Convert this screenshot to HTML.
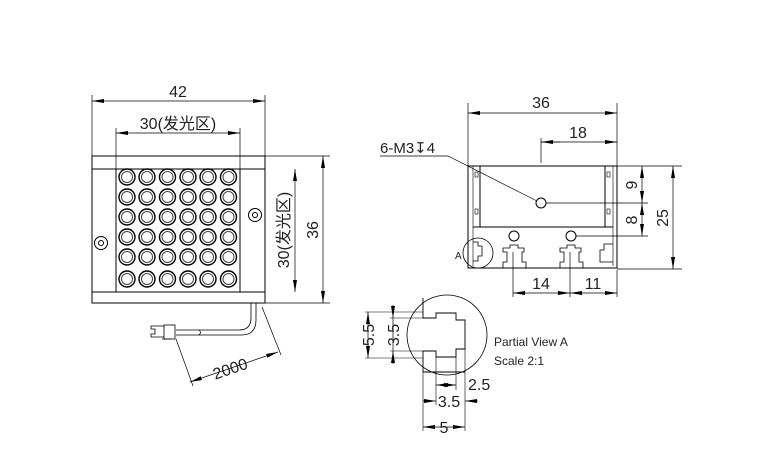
<!DOCTYPE html>
<html><head><meta charset="utf-8"><style>
html,body{margin:0;padding:0;background:#fff;}
svg{display:block;}
text{font-family:"Liberation Sans","Noto Sans CJK SC",sans-serif;fill:#222;}
</style></head><body>
<svg width="768" height="467" viewBox="0 0 768 467" xmlns="http://www.w3.org/2000/svg">
<defs>
<marker id="a" viewBox="0 0 12 4" refX="12" refY="2" markerWidth="12" markerHeight="4.4" orient="auto-start-reverse" markerUnits="userSpaceOnUse"><path d="M0,0L12,2L0,4z" fill="#000"/></marker>
</defs>
<g stroke="#000" stroke-width="1" fill="none">
<rect x="92" y="156" width="173" height="147"/>
<line x1="92" y1="169" x2="265" y2="169"/>
<line x1="92" y1="292" x2="265" y2="292"/>
<line x1="116" y1="169" x2="116" y2="292"/>
<line x1="240" y1="169" x2="240" y2="292"/>
<circle cx="255" cy="215" r="6.5"/><circle cx="255" cy="215" r="2.5"/>
<circle cx="101" cy="243" r="6.5"/><circle cx="101" cy="243" r="2.5"/>
<line x1="92" y1="95" x2="92" y2="156" stroke-width="0.7"/>
<line x1="265" y1="95" x2="265" y2="156" stroke-width="0.7"/>
<line x1="92" y1="101" x2="265" y2="101" marker-start="url(#a)" marker-end="url(#a)" stroke-width="0.7"/>
<line x1="116" y1="128" x2="116" y2="169" stroke-width="0.7"/>
<line x1="240" y1="128" x2="240" y2="169" stroke-width="0.7"/>
<line x1="116" y1="133" x2="240" y2="133" marker-start="url(#a)" marker-end="url(#a)" stroke-width="0.7"/>
<line x1="295" y1="169" x2="295" y2="292" marker-start="url(#a)" marker-end="url(#a)" stroke-width="0.7"/>
<line x1="265" y1="156" x2="330" y2="156" stroke-width="0.7"/>
<line x1="265" y1="303" x2="330" y2="303" stroke-width="0.7"/>
<line x1="323" y1="156" x2="323" y2="303" marker-start="url(#a)" marker-end="url(#a)" stroke-width="0.7"/>
<path d="M251,303 V318 Q251,330 239,330 H176 M256,303 V320 Q256,335 241,335 H176" stroke-width="0.8"/>
<path d="M199,330 q3,2.5 0,5" stroke-width="0.8"/>
<rect x="164" y="325" width="11" height="14" stroke-width="0.8"/>
<path d="M164,326 H151 V329 H155 V334 H151 V337 H164 M162,339 H171" stroke-width="0.8"/>
<line x1="262" y1="307" x2="281" y2="355" stroke-width="0.7"/>
<line x1="176" y1="339" x2="193" y2="386" stroke-width="0.7"/>
<line x1="190" y1="382" x2="278" y2="352" marker-start="url(#a)" marker-end="url(#a)" stroke-width="0.7"/>
<path d="M468,166 V268 H617 V166 Z"/>
<line x1="480" y1="166" x2="480" y2="227"/>
<line x1="605" y1="166" x2="605" y2="227"/>
<line x1="473" y1="166" x2="473" y2="266" stroke-width="0.6"/>
<line x1="613" y1="166" x2="613" y2="266" stroke-width="0.6"/>
<path d="M473,227 H613"/>
<rect x="475" y="172" width="3" height="5" stroke-width="0.6"/><rect x="475" y="209" width="3" height="5" stroke-width="0.6"/>
<rect x="607" y="172" width="3" height="5" stroke-width="0.6"/><rect x="607" y="209" width="3" height="5" stroke-width="0.6"/>
<circle cx="541" cy="203" r="5"/>
<circle cx="514" cy="236" r="5"/><circle cx="571" cy="236" r="5"/>
<path d="M473,242 H478 V246 H482 V256 H478 V261 H473" stroke-width="0.8"/>
<path d="M503,268 V262 H507 V252 H503 V248 H510 V245 H518 V248 H524 V252 H522 V262 H526 V268" stroke-width="0.8"/>
<path d="M560,268 V262 H564 V252 H560 V248 H567 V245 H575 V248 H581 V252 H579 V262 H583 V268" stroke-width="0.8"/>
<path d="M613,244 H604 V250 H600 V262 H613" stroke-width="0.8"/>
<circle cx="478" cy="253" r="15" stroke-width="0.8"/>
<line x1="468" y1="103" x2="468" y2="166" stroke-width="0.7"/>
<line x1="617" y1="103" x2="617" y2="166" stroke-width="0.7"/>
<line x1="468" y1="113" x2="617" y2="113" marker-start="url(#a)" marker-end="url(#a)" stroke-width="0.7"/>
<line x1="541" y1="138" x2="541" y2="163" stroke-width="0.7"/>
<line x1="541" y1="142" x2="617" y2="142" marker-end="url(#a)" stroke-width="0.7"/>
<line x1="541" y1="142" x2="560" y2="142" marker-start="url(#a)" stroke-width="0.7"/>
<polyline points="380,156 448,156 537,201" stroke-width="0.7"/>
<line x1="617" y1="166" x2="682" y2="166" stroke-width="0.7"/>
<line x1="546" y1="203" x2="648" y2="203" stroke-width="0.7"/>
<line x1="576" y1="236" x2="648" y2="236" stroke-width="0.7"/>
<line x1="617" y1="269" x2="682" y2="269" stroke-width="0.7"/>
<line x1="642" y1="166" x2="642" y2="203" marker-start="url(#a)" marker-end="url(#a)" stroke-width="0.7"/>
<line x1="642" y1="203" x2="642" y2="236" marker-start="url(#a)" marker-end="url(#a)" stroke-width="0.7"/>
<line x1="673" y1="166" x2="673" y2="269" marker-start="url(#a)" marker-end="url(#a)" stroke-width="0.7"/>
<line x1="513" y1="252" x2="513" y2="297" stroke-width="0.7"/>
<line x1="570" y1="252" x2="570" y2="297" stroke-width="0.7"/>
<line x1="617" y1="270" x2="617" y2="297" stroke-width="0.7"/>
<line x1="513" y1="293" x2="570" y2="293" marker-start="url(#a)" marker-end="url(#a)" stroke-width="0.7"/>
<line x1="570" y1="293" x2="617" y2="293" marker-start="url(#a)" marker-end="url(#a)" stroke-width="0.7"/>
<circle cx="447" cy="335" r="40" stroke-width="0.8"/>
<path d="M423,298 V318 H436 V313 H456 V320 H465 V349 H456 V357 H436 V351 H423 V372" stroke-width="0.9"/>
<line x1="423" y1="372" x2="465" y2="372"/>
<line x1="365" y1="312" x2="423" y2="312" stroke-width="0.6"/>
<line x1="365" y1="358" x2="423" y2="358" stroke-width="0.6"/>
<line x1="390" y1="318" x2="423" y2="318" stroke-width="0.6"/>
<line x1="390" y1="351" x2="423" y2="351" stroke-width="0.6"/>
<line x1="368" y1="312" x2="368" y2="358" marker-start="url(#a)" marker-end="url(#a)" stroke-width="0.7"/>
<line x1="393" y1="305" x2="393" y2="318" marker-end="url(#a)" stroke-width="0.7"/>
<line x1="393" y1="351" x2="393" y2="364" marker-start="url(#a)" stroke-width="0.7"/>
<line x1="393" y1="318" x2="393" y2="351" stroke-width="0.7"/>
<line x1="423" y1="372" x2="423" y2="431" stroke-width="0.6"/>
<line x1="436" y1="357" x2="436" y2="405" stroke-width="0.6"/>
<line x1="456" y1="357" x2="456" y2="390" stroke-width="0.6"/>
<line x1="465" y1="349" x2="465" y2="431" stroke-width="0.6"/>
<line x1="436" y1="385" x2="456" y2="385" marker-start="url(#a)" marker-end="url(#a)" stroke-width="0.7"/>
<line x1="423" y1="401" x2="436" y2="401" marker-end="url(#a)" stroke-width="0.7"/>
<line x1="465" y1="401" x2="478" y2="401" marker-start="url(#a)" stroke-width="0.7"/>
<line x1="423" y1="427" x2="465" y2="427" marker-start="url(#a)" marker-end="url(#a)" stroke-width="0.7"/>
</g>
<g stroke="#000" stroke-width="1.4" fill="none">
<circle cx="127" cy="177" r="8"/><circle cx="147" cy="177" r="8"/><circle cx="167.5" cy="177" r="8"/><circle cx="188" cy="177" r="8"/><circle cx="208" cy="177" r="8"/><circle cx="228.5" cy="177" r="8"/>
<circle cx="127" cy="197" r="8"/><circle cx="147" cy="197" r="8"/><circle cx="167.5" cy="197" r="8"/><circle cx="188" cy="197" r="8"/><circle cx="208" cy="197" r="8"/><circle cx="228.5" cy="197" r="8"/>
<circle cx="127" cy="217" r="8"/><circle cx="147" cy="217" r="8"/><circle cx="167.5" cy="217" r="8"/><circle cx="188" cy="217" r="8"/><circle cx="208" cy="217" r="8"/><circle cx="228.5" cy="217" r="8"/>
<circle cx="127" cy="237" r="8"/><circle cx="147" cy="237" r="8"/><circle cx="167.5" cy="237" r="8"/><circle cx="188" cy="237" r="8"/><circle cx="208" cy="237" r="8"/><circle cx="228.5" cy="237" r="8"/>
<circle cx="127" cy="257" r="8"/><circle cx="147" cy="257" r="8"/><circle cx="167.5" cy="257" r="8"/><circle cx="188" cy="257" r="8"/><circle cx="208" cy="257" r="8"/><circle cx="228.5" cy="257" r="8"/>
<circle cx="127" cy="279" r="8"/><circle cx="147" cy="279" r="8"/><circle cx="167.5" cy="279" r="8"/><circle cx="188" cy="279" r="8"/><circle cx="208" cy="279" r="8"/><circle cx="228.5" cy="279" r="8"/>
</g>
<g stroke="#444" stroke-width="1" fill="none">
<circle cx="127" cy="177" r="5.5"/><circle cx="147" cy="177" r="5.5"/><circle cx="167.5" cy="177" r="5.5"/><circle cx="188" cy="177" r="5.5"/><circle cx="208" cy="177" r="5.5"/><circle cx="228.5" cy="177" r="5.5"/>
<circle cx="127" cy="197" r="5.5"/><circle cx="147" cy="197" r="5.5"/><circle cx="167.5" cy="197" r="5.5"/><circle cx="188" cy="197" r="5.5"/><circle cx="208" cy="197" r="5.5"/><circle cx="228.5" cy="197" r="5.5"/>
<circle cx="127" cy="217" r="5.5"/><circle cx="147" cy="217" r="5.5"/><circle cx="167.5" cy="217" r="5.5"/><circle cx="188" cy="217" r="5.5"/><circle cx="208" cy="217" r="5.5"/><circle cx="228.5" cy="217" r="5.5"/>
<circle cx="127" cy="237" r="5.5"/><circle cx="147" cy="237" r="5.5"/><circle cx="167.5" cy="237" r="5.5"/><circle cx="188" cy="237" r="5.5"/><circle cx="208" cy="237" r="5.5"/><circle cx="228.5" cy="237" r="5.5"/>
<circle cx="127" cy="257" r="5.5"/><circle cx="147" cy="257" r="5.5"/><circle cx="167.5" cy="257" r="5.5"/><circle cx="188" cy="257" r="5.5"/><circle cx="208" cy="257" r="5.5"/><circle cx="228.5" cy="257" r="5.5"/>
<circle cx="127" cy="279" r="5.5"/><circle cx="147" cy="279" r="5.5"/><circle cx="167.5" cy="279" r="5.5"/><circle cx="188" cy="279" r="5.5"/><circle cx="208" cy="279" r="5.5"/><circle cx="228.5" cy="279" r="5.5"/>
</g>
<g font-size="16">
<text x="178" y="97" text-anchor="middle">42</text>
<text x="178" y="129" text-anchor="middle">30(发光区)</text>
<text transform="translate(289,230) rotate(-90)" text-anchor="middle">30(发光区)</text>
<text transform="translate(318,230) rotate(-90)" text-anchor="middle">36</text>
<text transform="translate(232,374) rotate(-19)" text-anchor="middle">2000</text>
<text x="541" y="108" text-anchor="middle">36</text>
<text x="578" y="138" text-anchor="middle">18</text>
<text x="380" y="153" font-size="15">6-M3↧4</text>
<text transform="translate(637,185) rotate(-90)" text-anchor="middle">9</text>
<text transform="translate(637,220) rotate(-90)" text-anchor="middle">8</text>
<text transform="translate(668,218) rotate(-90)" text-anchor="middle">25</text>
<text x="541" y="289" text-anchor="middle">14</text>
<text x="593" y="289" text-anchor="middle">11</text>
<text x="455" y="259" font-size="10">A</text>
<text transform="translate(374,335) rotate(-90)" text-anchor="middle">5.5</text>
<text transform="translate(399,335) rotate(-90)" text-anchor="middle">3.5</text>
<text x="468" y="390">2.5</text>
<text x="449" y="407" text-anchor="middle">3.5</text>
<text x="444" y="433" text-anchor="middle">5</text>
<text x="494" y="346" font-size="12" font-family="Liberation Mono,monospace">Partial View A</text>
<text x="494" y="365" font-size="12" font-family="Liberation Mono,monospace">Scale 2:1</text>
</g>
</svg>
</body></html>
